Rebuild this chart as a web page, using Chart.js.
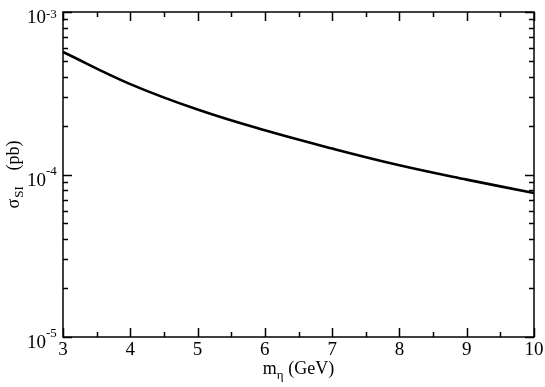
<!DOCTYPE html>
<html lang="en">
<head>
  <meta charset="UTF-8">
  <title>sigma SI vs m eta</title>
  <script src="https://cdn.jsdelivr.net/npm/chart.js"></script>
  <style>
    html, body {
      margin: 0;
      padding: 0;
      background: #fff;
    }
    #myChart {
      display: block;
    }
  </style>
</head>
<body>
<canvas id="myChart" width="545" height="387"></canvas>

<script>
  // values
  const massGeV = [3, 4, 5, 6, 7, 8, 9, 10];
  const sigmaSI = [5.67e-4, 3.60e-4, 2.51e-4, 1.87e-4, 1.445e-4, 1.14e-4, 9.3e-5, 7.69e-5];

  // axis ticks
  const xMajorTicks = [3, 4, 5, 6, 7, 8, 9, 10];
  const xMinorTicks = [3.5, 4.5, 5.5, 6.5, 7.5, 8.5, 9.5];
  const yDecades = [-5, -4, -3];
  const yMinorMult = [2, 3, 4, 5, 6, 7, 8, 9];

  const serif = '"Liberation Serif", "DejaVu Serif", serif';

  // frame, inward ticks, labels and axis titles (grace style)
  const gracePlugin = {
    id: 'grace',
    afterDraw(chart) {
      const c = chart.ctx;
      const a = chart.chartArea;
      const xs = chart.scales.x;
      const ys = chart.scales.y;
      c.save();
      c.strokeStyle = '#000';
      c.fillStyle = '#000';
      c.lineWidth = 1.5;
      c.strokeRect(a.left, a.top, a.right - a.left, a.bottom - a.top);

      c.beginPath();
      // x ticks, bottom and top
      xMajorTicks.forEach(v => {
        const px = Math.round(xs.getPixelForValue(v)) + 0.5;
        c.moveTo(px, a.bottom); c.lineTo(px, a.bottom - 9);
        c.moveTo(px, a.top); c.lineTo(px, a.top + 9);
      });
      xMinorTicks.forEach(v => {
        const px = Math.round(xs.getPixelForValue(v)) + 0.5;
        c.moveTo(px, a.bottom); c.lineTo(px, a.bottom - 5);
        c.moveTo(px, a.top); c.lineTo(px, a.top + 5);
      });
      // y ticks, left and right
      yDecades.forEach(e => {
        const py = Math.round(ys.getPixelForValue(Math.pow(10, e))) + 0.5;
        c.moveTo(a.left, py); c.lineTo(a.left + 9, py);
        c.moveTo(a.right, py); c.lineTo(a.right - 9, py);
        if (e < yDecades[yDecades.length - 1]) {
          yMinorMult.forEach(k => {
            const pm = Math.round(ys.getPixelForValue(k * Math.pow(10, e))) + 0.5;
            c.moveTo(a.left, pm); c.lineTo(a.left + 5, pm);
            c.moveTo(a.right, pm); c.lineTo(a.right - 5, pm);
          });
        }
      });
      c.stroke();

      // x tick labels
      c.font = '19px ' + serif;
      c.textAlign = 'center';
      c.textBaseline = 'alphabetic';
      xMajorTicks.forEach(v => {
        c.fillText(String(v), xs.getPixelForValue(v), a.bottom + 18);
      });

      // y tick labels 10^e
      yDecades.forEach(e => {
        const py = ys.getPixelForValue(Math.pow(10, e));
        c.font = '19px ' + serif;
        c.textAlign = 'right';
        c.fillText('10', 46, py + 11);
        c.font = '13px ' + serif;
        c.textAlign = 'left';
        c.fillText(String(e), 46, Math.max(py, 18));
      });

      // x title: m_eta (GeV)
      const big = '18px ' + serif;
      const small = '13px ' + serif;
      c.font = big;
      const wm = c.measureText('m').width;
      const wRest = c.measureText(' (GeV)').width;
      c.font = small;
      const wEta = c.measureText('\u03b7').width;
      let x0 = (a.left + a.right) / 2 - (wm + wEta + wRest) / 2;
      const base = 374;
      c.textAlign = 'left';
      c.font = big;
      c.fillText('m', x0, base);
      c.font = small;
      c.fillText('\u03b7', x0 + wm, base + 5);
      c.font = big;
      c.fillText(' (GeV)', x0 + wm + wEta, base);

      // y title: sigma_SI (pb), rotated
      c.translate(19, (a.top + a.bottom) / 2);
      c.rotate(-Math.PI / 2);
      c.font = big;
      c.textAlign = 'left';
      c.fillText('\u03c3', -34, 0);
      const ws = c.measureText('\u03c3').width;
      c.font = small;
      c.fillText('SI', -34 + ws + 1, 4);
      c.font = big;
      c.textAlign = 'right';
      c.fillText('(pb)', 34, 0);
      c.restore();
    }
  };

  const ctx = document.getElementById('myChart').getContext('2d');
  const myChart = new Chart(ctx, {
    type: 'line',
    data: {
      labels: massGeV,
      datasets: [{
        data: massGeV.map((m, i) => ({x: m, y: sigmaSI[i]})),
        borderColor: '#000',
        borderWidth: 2.6,
        pointRadius: 0,
        fill: false,
        tension: 0.4
      }]
    },
    options: {
      responsive: false,
      animation: false,
      devicePixelRatio: 1,
      layout: {
        padding: {left: 63, right: 11, top: 12, bottom: 50}
      },
      scales: {
        x: {
          type: 'linear',
          min: 3,
          max: 10,
          display: false
        },
        y: {
          type: 'logarithmic',
          min: 1e-5,
          max: 1e-3,
          display: false
        }
      },
      plugins: {
        legend: {display: false},
        tooltip: {enabled: false}
      }
    },
    plugins: [gracePlugin]
  });
</script>
</body>
</html>
